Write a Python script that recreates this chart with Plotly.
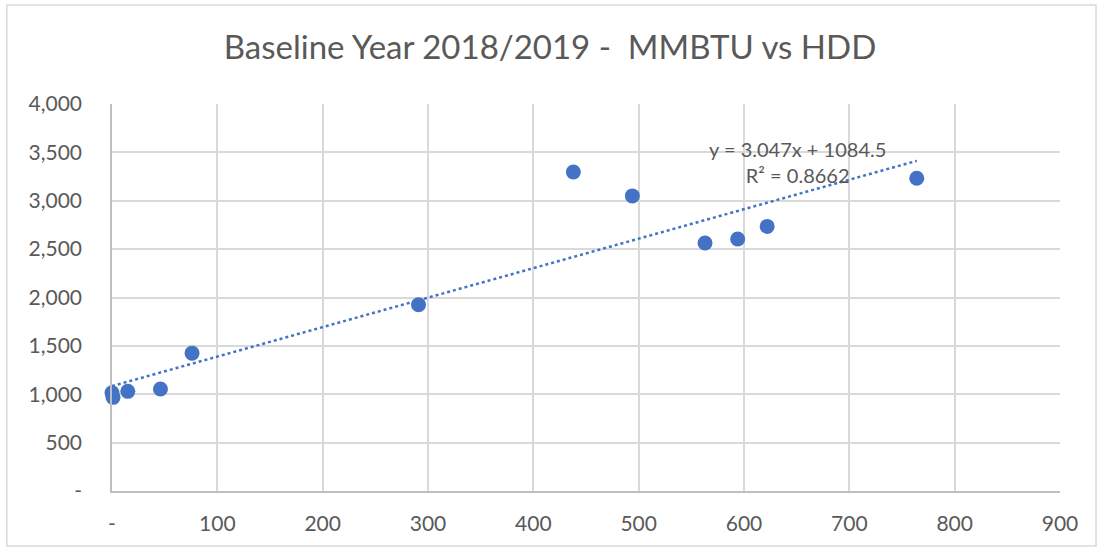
import plotly.graph_objects as go

# HDD vs MMBTU, baseline year 2018/2019
hdd = [0, 1, 15, 46, 76, 291, 438, 494, 563, 594, 622, 764]
mmbtu = [1015, 968, 1030, 1055, 1425, 1925, 3297, 3050, 2563, 2605, 2735, 3232]

# linear trendline endpoints (y = 3.047x + 1084.5)
trend_x = [0, 764]
trend_y = [1084.5, 3412.4]

x_ticks = [0, 100, 200, 300, 400, 500, 600, 700, 800, 900]
x_labels = ["-", "100", "200", "300", "400", "500", "600", "700", "800", "900"]
y_ticks = [0, 500, 1000, 1500, 2000, 2500, 3000, 3500, 4000]
y_labels = ["-", "500", "1,000", "1,500", "2,000", "2,500", "3,000", "3,500", "4,000"]

blue = "#4472C4"
grey_txt = "#595959"
font_family = "Lato, 'Open Sans', sans-serif"

fig = go.Figure()

fig.add_trace(go.Scatter(
    x=trend_x, y=trend_y, mode="lines",
    line=dict(color=blue, width=2.5, dash="dot"),
    showlegend=False, hoverinfo="skip",
))
fig.add_trace(go.Scatter(
    x=hdd, y=mmbtu, mode="markers",
    marker=dict(color=blue, size=15),
    cliponaxis=False, showlegend=False,
))

fig.add_annotation(
    x=651, y=3400, xref="x", yref="y",
    text="y = 3.047x + 1084.5<br>R² = 0.8662",
    showarrow=False, align="center",
    font=dict(size=20, color=grey_txt, family=font_family),
)

# chart-area border
fig.add_shape(
    type="rect", xref="paper", yref="paper",
    x0=-0.111, x1=1.038, y0=-0.142, y1=1.256,
    line=dict(color="#D9D9D9", width=1.5), layer="below",
)

fig.update_layout(
    width=1100, height=550,
    paper_bgcolor="white", plot_bgcolor="white",
    margin=dict(l=112, r=40, t=104, b=59),
    title=dict(
        text="Baseline Year 2018/2019 -  MMBTU vs HDD",
        x=0.5, xanchor="center", y=0.913, yanchor="middle",
        font=dict(size=33, color=grey_txt, family=font_family),
    ),
    font=dict(family=font_family, color=grey_txt, size=21),
)

fig.update_xaxes(
    range=[0, 900], tickvals=x_ticks, ticktext=x_labels,
    showgrid=True, gridcolor="#D9D9D9", gridwidth=1.5,
    showline=True, linecolor="#BFBFBF", linewidth=1.5,
    zeroline=False, ticks="outside", ticklen=13, tickcolor="rgba(0,0,0,0)",
    tickfont=dict(size=21, color=grey_txt),
)
fig.update_yaxes(
    range=[0, 4000], tickvals=y_ticks, ticktext=y_labels,
    showgrid=True, gridcolor="#D9D9D9", gridwidth=1.5,
    showline=True, linecolor="#BFBFBF", linewidth=1.5,
    zeroline=False, ticks="outside", ticklen=24, tickcolor="rgba(0,0,0,0)",
    tickfont=dict(size=21, color=grey_txt),
)

fig.write_html("out.html", config={"displayModeBar": False},
               post_script="document.body.style.margin='0';")
